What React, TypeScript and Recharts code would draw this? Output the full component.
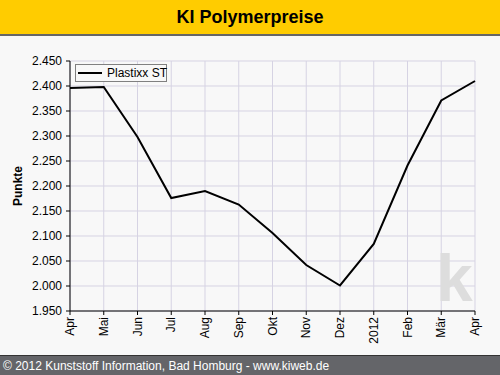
import React from 'react';
import { LineChart, Line, XAxis, YAxis, CartesianGrid, Legend } from 'recharts';

const months = ['Apr', 'Mai', 'Jun', 'Jul', 'Aug', 'Sep', 'Okt', 'Nov', 'Dez', '2012', 'Feb', 'Mär', 'Apr'];
const plastixxST = [2396, 2398, 2298, 2176, 2190, 2163, 2106, 2042, 2001, 2084, 2241, 2371, 2410];
const yTicks = [1950, 2000, 2050, 2100, 2150, 2200, 2250, 2300, 2350, 2400, 2450];
const seriesName = 'Plastixx ST';
const titleText = 'KI Polymerpreise';
const footerText = '© 2012 Kunststoff Information, Bad Homburg - www.kiweb.de';

const data = months.map((m, i) => ({ idx: i, label: m, value: plastixxST[i] }));

const FONT = 'Arial, "Liberation Sans", Helvetica, sans-serif';

const fmt = (v: number) => {
  const s = String(v);
  return s.length > 3 ? s.slice(0, s.length - 3) + '.' + s.slice(s.length - 3) : s;
};

const XTick = (props: any) => {
  const { x, y, payload } = props;
  return (
    <text
      x={x}
      y={y}
      transform={`rotate(-90 ${x} ${y})`}
      textAnchor="end"
      dominantBaseline="central"
      fontSize={12}
      fontFamily={FONT}
      fill="#000"
    >
      {months[payload.value]}
    </text>
  );
};

const LegendBox = () => (
  <div
    style={{
      border: '1px solid #808080',
      width: 90,
      height: 16,
      display: 'flex',
      alignItems: 'center',
      fontFamily: FONT,
      fontSize: 12,
      background: '#F8F8F8',
      boxSizing: 'content-box',
      whiteSpace: 'nowrap',
      color: '#000',
    }}
  >
    <div style={{ width: 24, height: 2, background: '#000', marginLeft: 2, marginRight: 5, flex: 'none' }} />
    <span>{seriesName}</span>
  </div>
);

export default function App() {
  return (
    <div
      style={{
        position: 'fixed',
        left: 0,
        top: 0,
        width: 500,
        height: 375,
        background: '#F8F8F8',
        overflow: 'hidden',
        fontFamily: FONT,
      }}
    >
      <div
        style={{
          position: 'absolute',
          left: 0,
          top: 0,
          width: 500,
          height: 34,
          background: '#FFCC00',
          borderBottom: '2px solid #666666',
          textAlign: 'center',
          fontWeight: 'bold',
          fontSize: 18,
          lineHeight: '35px',
          color: '#000',
        }}
      >
        {titleText}
      </div>
      <div style={{ position: 'absolute', left: 0, top: 0 }}>
        <LineChart width={500} height={375} data={data} margin={{ top: 61, right: 25, bottom: 20, left: 0 }}>
          <CartesianGrid stroke="#D6D3E3" strokeWidth={1} />
          <text
            x={436}
            y={301}
            fontSize={66}
            fontWeight="bold"
            fontFamily={FONT}
            fill="#DDDDDD"
          >
            k
          </text>
          <XAxis
            dataKey="idx"
            type="number"
            domain={[0, 12]}
            ticks={months.map((_, i) => i)}
            interval={0}
            tick={<XTick />}
            tickSize={4}
            tickMargin={2}
            height={44}
            axisLine={{ stroke: '#000' }}
            tickLine={{ stroke: '#000' }}
          />
          <XAxis xAxisId="top" orientation="top" dataKey="idx" type="number" domain={[0, 12]} tick={false} tickLine={false} height={0} axisLine={{ stroke: '#000' }} />
          <YAxis
            domain={[1950, 2450]}
            ticks={yTicks}
            interval={0}
            tickFormatter={fmt}
            width={70}
            tickSize={4}
            tickMargin={4}
            tick={{ fontSize: 12, fontFamily: FONT, fill: '#000' }}
            axisLine={{ stroke: '#000' }}
            tickLine={{ stroke: '#000' }}
            label={{
              value: 'Punkte',
              angle: -90,
              position: 'insideLeft',
              offset: 18,
              style: { fontSize: 12, fontWeight: 'bold', fontFamily: FONT, fill: '#000', textAnchor: 'middle' },
            }}
          />
          <YAxis yAxisId="right" orientation="right" domain={[1950, 2450]} tick={false} tickLine={false} width={0} axisLine={{ stroke: '#000' }} />
          <Legend
            content={<LegendBox />}
            verticalAlign="middle"
            align="center"
            wrapperStyle={{ position: 'absolute', top: 64, left: 75, width: 'auto', height: 'auto' }}
          />
          <Line
            type="linear"
            dataKey="value"
            name={seriesName}
            stroke="#000"
            strokeWidth={2}
            dot={false}
            isAnimationActive={false}
          />
        </LineChart>
      </div>
      <div
        style={{
          position: 'absolute',
          left: 0,
          top: 355,
          width: 500,
          height: 20,
          background: '#646569',
          color: '#FFFFFF',
          fontSize: 12,
          lineHeight: '21px',
          paddingLeft: 3,
          boxSizing: 'border-box',
          borderTop: '1px solid #333',
        }}
      >
        {footerText}
      </div>
    </div>
  );
}
